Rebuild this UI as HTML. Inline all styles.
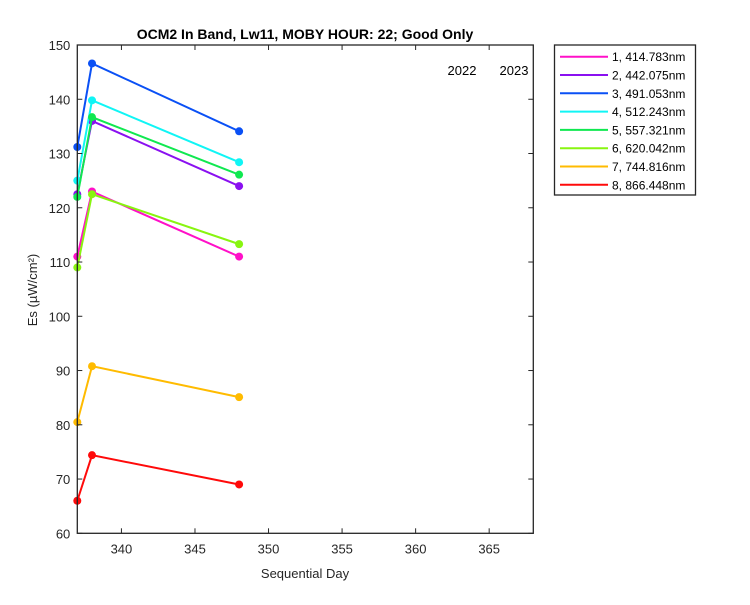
<!DOCTYPE html>
<html><head><meta charset="utf-8"><style>
body{margin:0;background:#fff;font-family:"Liberation Sans",sans-serif;}
svg text{font-family:"Liberation Sans",sans-serif;}
</style></head><body>
<svg id="chart" width="750" height="600" xmlns="http://www.w3.org/2000/svg">
<rect width="750" height="600" fill="#fff"/>
</svg>
<script>
const days = [337, 338, 348];
const seriesLabels = ["1, 414.783nm","2, 442.075nm","3, 491.053nm","4, 512.243nm","5, 557.321nm","6, 620.042nm","7, 744.816nm","8, 866.448nm"];
const s1 = [111, 123, 111];
const s2 = [122.5, 136, 124];
const s3 = [131.2, 146.6, 134.1];
const s4 = [125, 139.8, 128.4];
const s5 = [122, 136.7, 126.1];
const s6 = [109, 122.5, 113.3];
const s7 = [80.5, 90.8, 85.1];
const s8 = [66, 74.4, 69];
const xTicks = [340, 345, 350, 355, 360, 365];
const yTicks = [60, 70, 80, 90, 100, 110, 120, 130, 140, 150];
const series = [s1,s2,s3,s4,s5,s6,s7,s8];
const colors = ["#ff10c8","#8a10f0","#0a50f5","#10f5f5","#10e850","#88f510","#ffbb00","#ff0a0a"];
const L=77.3,R=533.3,T=45,B=533.3, xMin=337,xMax=368,yMin=60,yMax=150;
const sx=v=>L+(v-xMin)/(xMax-xMin)*(R-L);
const sy=v=>B-(v-yMin)/(yMax-yMin)*(B-T);
const svg=document.getElementById('chart');
const NS='http://www.w3.org/2000/svg';
function mk(tag,attrs,parent){const e=document.createElementNS(NS,tag);for(const k in attrs)e.setAttribute(k,attrs[k]);(parent||svg).appendChild(e);return e;}
function txt(s,attrs){const e=mk('text',attrs);e.textContent=s;return e;}
// series
series.forEach((d,i)=>{
  const g=mk('g',{});
  
  
  const pts=d.map((v,j)=>sx(days[j])+','+sy(v)).join(' ');
  const pl=mk('polyline',{points:pts,fill:'none',stroke:colors[i],'stroke-width':2},g);
  
  
  d.forEach((v,j)=>{
    const c=mk('circle',{cx:sx(days[j]),cy:sy(v),r:4,fill:colors[i]},g);
    
    
  });
});
// axes box
const box=mk('rect',{x:L,y:T,width:R-L,height:B-T,fill:'none',stroke:'#262626','stroke-width':1.3});


xTicks.forEach(t=>{
  const x=sx(t);
  mk('line',{x1:x,x2:x,y1:B,y2:B-5,stroke:'#262626'});
  mk('line',{x1:x,x2:x,y1:T,y2:T+5,stroke:'#262626'});
  const e=txt(t,{x:x,y:B+20,'text-anchor':'middle','font-size':13,fill:'#262626'});
  
  
});
yTicks.forEach(t=>{
  const y=sy(t);
  mk('line',{x1:L,x2:L+5,y1:y,y2:y,stroke:'#262626'});
  mk('line',{x1:R,x2:R-5,y1:y,y2:y,stroke:'#262626'});
  const e=txt(t,{x:L-7,y:y+5,'text-anchor':'end','font-size':13,fill:'#262626'});
  
  
});
let e;
e=txt('Sequential Day',{x:305,y:578,'text-anchor':'middle','font-size':13,fill:'#262626'});


e=txt('Es (µW/cm²)',{x:0,y:0,'text-anchor':'middle','font-size':13,fill:'#262626',transform:'translate(37,290) rotate(-90)'});


e=txt('OCM2 In Band,  Lw11, MOBY HOUR: 22;  Good Only',{x:305,y:39,'text-anchor':'middle','font-size':14,'font-weight':'bold',fill:'#000'});


e.setAttribute('xml:space','preserve');
e=txt('2022',{x:462,y:75,'text-anchor':'middle','font-size':13,fill:'#000'});


e=txt('2023',{x:514,y:75,'text-anchor':'middle','font-size':13,fill:'#000'});


// legend
const lg=mk('g',{});


mk('rect',{x:554.5,y:45,width:141,height:150,fill:'#fff',stroke:'#262626','stroke-width':1.3},lg);
seriesLabels.forEach((s,i)=>{
  const y=56.7+i*18.3;
  const g=mk('g',{},lg);
  
  
  mk('line',{x1:560,x2:608,y1:y,y2:y,stroke:colors[i],'stroke-width':2},g);
  const t=mk('text',{x:612,y:y+4.5,'font-size':12,fill:'#000'},g);
  t.textContent=s;
});
</script>
</body></html>
